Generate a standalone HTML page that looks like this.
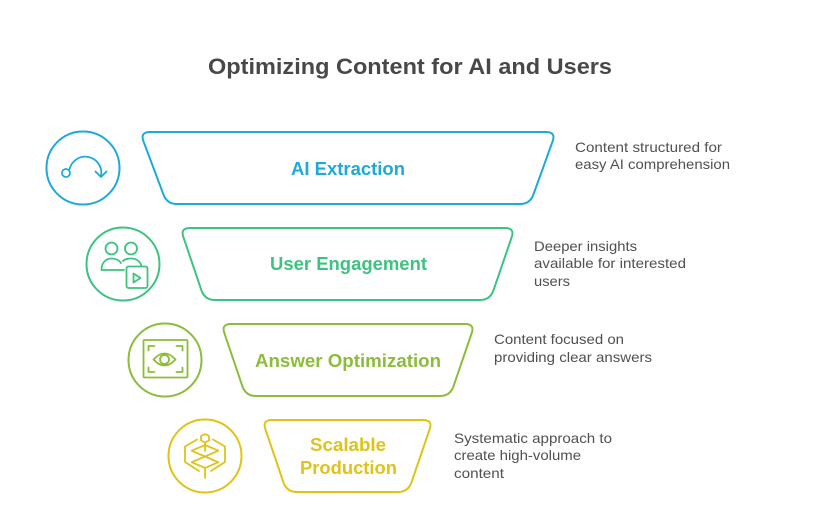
<!DOCTYPE html>
<html>
<head>
<meta charset="utf-8">
<style>
  html, body { margin: 0; padding: 0; background: #ffffff; }
  svg { display: block; }
  text { font-family: "Liberation Sans", "DejaVu Sans", sans-serif; }
</style>
</head>
<body>
<svg width="821" height="514" viewBox="0 0 821 514" xmlns="http://www.w3.org/2000/svg">
  <rect width="821" height="514" fill="#ffffff"/>

  <!-- Title -->
  <text x="410" y="74" text-anchor="middle" font-size="22" font-weight="bold" fill="#484848" textLength="404" lengthAdjust="spacingAndGlyphs">Optimizing Content for AI and Users</text>

  <!-- Row 1: AI Extraction (blue) -->
  <circle cx="83" cy="168" r="36.5" fill="none" stroke="#1ea9dc" stroke-width="2"/>
  <g fill="none" stroke="#1ea9dc" stroke-width="1.8" stroke-linecap="round" stroke-linejoin="round">
    <circle cx="66" cy="173" r="4"/>
    <path d="M69.5 169.5 A16 16 0 0 1 101 176"/>
    <path d="M95.5 171.5 L101 177 L106.5 171.5"/>
  </g>
  <path d="M150 132 L546 132 Q556 132 552.6 141.4 L533.4 194.6 Q530 204 520 204 L177 204 Q167 204 163.5 194.6 L143.5 141.4 Q140 132 150 132 Z" fill="#ffffff" stroke="#1ea9dc" stroke-width="2"/>
  <text x="348" y="175" text-anchor="middle" font-size="18" font-weight="bold" fill="#1ea9dc" textLength="114" lengthAdjust="spacingAndGlyphs">AI Extraction</text>
  <g font-size="14" fill="#505050">
    <text x="575" y="152" textLength="147" lengthAdjust="spacingAndGlyphs">Content structured for</text>
    <text x="575" y="169" textLength="155" lengthAdjust="spacingAndGlyphs">easy AI comprehension</text>
  </g>

  <!-- Row 2: User Engagement (green) -->
  <circle cx="123" cy="264" r="36.5" fill="none" stroke="#3dc37f" stroke-width="2"/>
  <g fill="none" stroke="#3dc37f" stroke-width="1.8" stroke-linecap="round" stroke-linejoin="round">
    <circle cx="111.5" cy="248.5" r="6"/>
    <circle cx="131" cy="248.5" r="6"/>
    <path d="M101.5 270 C101.5 262.5 106 258.5 111.5 258.5 C116 258.5 119.5 260.5 121 263"/>
    <path d="M101.5 270 L124 270"/>
    <path d="M123 261 C125 259 128 258.5 131 258.5 C136 258.5 140 261 141.5 266"/>
    <rect x="126.5" y="266.5" width="21" height="21.5" rx="2" fill="#ffffff"/>
    <path d="M133.5 273.5 L140.5 278 L133.5 282.5 Z"/>
  </g>
  <path d="M190 228 L505 228 Q515 228 511.6 237.4 L493.4 290.6 Q490 300 480 300 L215 300 Q205 300 201.5 290.6 L183.5 237.4 Q180 228 190 228 Z" fill="#ffffff" stroke="#3dc37f" stroke-width="2"/>
  <text x="348.5" y="270" text-anchor="middle" font-size="18" font-weight="bold" fill="#3dc37f" textLength="157" lengthAdjust="spacingAndGlyphs">User Engagement</text>
  <g font-size="14" fill="#505050">
    <text x="534" y="251" textLength="103" lengthAdjust="spacingAndGlyphs">Deeper insights</text>
    <text x="534" y="268" textLength="152" lengthAdjust="spacingAndGlyphs">available for interested</text>
    <text x="534" y="286" textLength="36" lengthAdjust="spacingAndGlyphs">users</text>
  </g>

  <!-- Row 3: Answer Optimization (lime) -->
  <circle cx="165" cy="360" r="36.5" fill="none" stroke="#8cbc3a" stroke-width="2"/>
  <g fill="none" stroke="#8cbc3a" stroke-width="1.8" stroke-linecap="round" stroke-linejoin="round">
    <rect x="143.5" y="340" width="44" height="37.5" rx="1"/>
    <path d="M148.5 350.5 L148.5 346 L154.5 346"/>
    <path d="M176.5 346 L182.5 346 L182.5 350.5"/>
    <path d="M148.5 367.5 L148.5 372 L154.5 372"/>
    <path d="M176.5 372 L182.5 372 L182.5 367.5"/>
    <path d="M153.5 359.5 Q164.5 347.5 175.5 359.5 Q164.5 371.5 153.5 359.5 Z"/>
    <circle cx="164.5" cy="359.5" r="4.5"/>
  </g>
  <path d="M231 324 L465 324 Q475 324 471.6 333.4 L453.4 386.6 Q450 396 440 396 L256 396 Q246 396 242.5 386.6 L224.5 333.4 Q221 324 231 324 Z" fill="#ffffff" stroke="#8cbc3a" stroke-width="2"/>
  <text x="348" y="367" text-anchor="middle" font-size="18" font-weight="bold" fill="#8cbc3a" textLength="186" lengthAdjust="spacingAndGlyphs">Answer Optimization</text>
  <g font-size="14" fill="#505050">
    <text x="494" y="344" textLength="130" lengthAdjust="spacingAndGlyphs">Content focused on</text>
    <text x="494" y="362" textLength="158" lengthAdjust="spacingAndGlyphs">providing clear answers</text>
  </g>

  <!-- Row 4: Scalable Production (yellow) -->
  <circle cx="205" cy="456" r="36.5" fill="none" stroke="#e0c316" stroke-width="2"/>
  <g fill="none" stroke="#e0c316" stroke-width="1.8" stroke-linecap="round" stroke-linejoin="round">
    <path d="M201 436 L205 434 L209 436 L209 440.5 L205 442.5 L201 440.5 Z"/>
    <path d="M205 442.5 L205 451"/>
    <path d="M205 445 L218.3 450.7 L205 456.5 L191.7 450.7 Z"/>
    <path d="M205 456.5 L218.3 462.2 L205 468 L191.7 462.2 Z"/>
    <path d="M205 468 L205 478"/>
    <path d="M197 439.5 L185 446.5 L185 462 L199 471"/>
    <path d="M213 439.5 L225 446.5 L225 462 L211 471"/>
  </g>
  <path d="M272 420 L423 420 Q433 420 429.6 429.4 L411.4 482.6 Q408 492 398 492 L297 492 Q287 492 283.5 482.6 L265.5 429.4 Q262 420 272 420 Z" fill="#ffffff" stroke="#e0c316" stroke-width="2"/>
  <text x="348" y="451" text-anchor="middle" font-size="18" font-weight="bold" fill="#e0c316" textLength="76" lengthAdjust="spacingAndGlyphs">Scalable</text>
  <text x="348.5" y="474" text-anchor="middle" font-size="18" font-weight="bold" fill="#e0c316" textLength="97" lengthAdjust="spacingAndGlyphs">Production</text>
  <g font-size="14" fill="#505050">
    <text x="454" y="443" textLength="158" lengthAdjust="spacingAndGlyphs">Systematic approach to</text>
    <text x="454" y="460" textLength="127" lengthAdjust="spacingAndGlyphs">create high-volume</text>
    <text x="454" y="478" textLength="50" lengthAdjust="spacingAndGlyphs">content</text>
  </g>
</svg>
</body>
</html>
